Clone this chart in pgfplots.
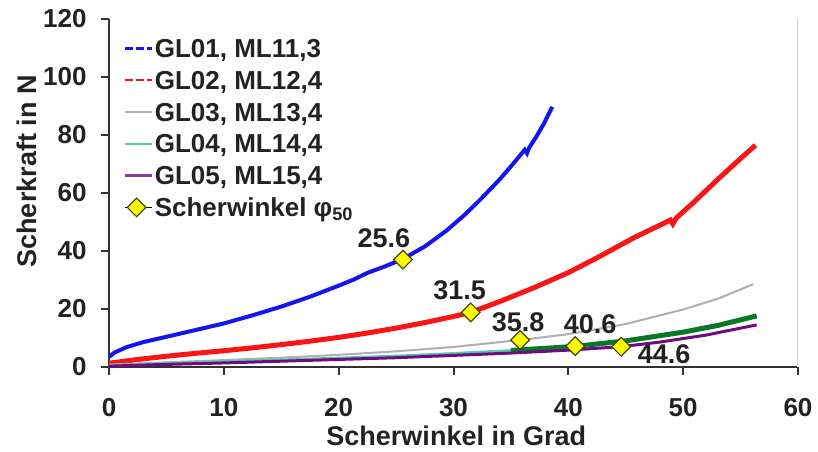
\documentclass[border=0pt]{standalone}
\usepackage{fontspec}
\setmainfont{Liberation Sans}
\usepackage{pgfplots}
\usepackage{pgfplotstable}
\pgfplotsset{compat=1.18}
\definecolor{cblue}{RGB}{20,20,240}
\definecolor{cred}{RGB}{250,20,20}
\definecolor{cgray}{RGB}{175,175,175}
\definecolor{cteal}{RGB}{90,200,175}
\definecolor{cgreen}{RGB}{10,120,40}
\definecolor{cpurple}{RGB}{110,10,130}
\definecolor{txt}{RGB}{34,34,34}
\definecolor{axcol}{RGB}{50,50,50}
\definecolor{myyellow}{RGB}{250,250,0}
\definecolor{mkborder}{RGB}{70,70,0}

\pgfplotstableread{
x y
0 3.5
0.5 5
1.5 6.8
3 8.6
5 10.4
7.5 12.7
10 15.0
12.5 17.8
15 20.8
17.5 24.2
20 28.0
21.3 30.1
22.5 32.4
24 34.6
25.6 37.2
27.5 41.5
29.4 47.0
31 52.5
32.3 57.5
33.2 61.2
34 64.5
35.2 70.0
36.2 74.8
36.4 73.6
36.6 75.6
37.2 79.2
37.9 84
38.6 89.6
}\GLa

\pgfplotstableread{
x y
0 1.3
2.5 2.6
5 3.7
7.5 4.7
10 5.6
12.5 6.6
15 7.7
17.5 8.9
20 10.2
22.5 11.7
25 13.4
27.5 15.3
30 17.4
31.5 18.8
34 22.5
37 27.3
40 32.5
42.5 37.6
45.7 44.5
48.9 50.6
49.1 49.3
49.4 51.3
51 57
52.9 64.2
54.5 70
56.3 76.4
}\GLb

\pgfplotstableread{
x y
0 0.8
5 1.6
10 2.4
15 3.2
20 4.2
25 5.4
30 6.9
35.8 9.3
40 11.3
45 14.8
50 19.8
53 23.5
56.1 28.5
}\GLc

\pgfplotstableread{
x y
0 0.7
5 1.3
10 1.9
15 2.5
20 3.1
25 3.8
30 4.7
35 5.7
40.6 7.1
45 9.0
50 12.0
53 14.3
56.4 17.6
}\GLd

\pgfplotstableread{
x y
0 0.3
5 0.9
10 1.4
15 2.0
20 2.6
25 3.2
30 4.0
35 4.8
40 5.8
44.6 7.0
48 8.6
52 11.0
56.4 14.5
}\GLe

\pgfplotstableread{
x y
25.6 37.0
31.5 18.8
35.8 9.3
40.6 7.2
44.6 7.0
}\Marks

\pgfplotsset{
  lbl/.style n args={3}{forget plot, draw=none, mark=none,
    nodes near coords={#1},
    every node near coord/.append style={anchor=center, xshift=#2, yshift=#3,
      font=\bfseries\fontsize{13.5}{15}\selectfont, text=txt, inner sep=0pt}},
}

\begin{document}
\begin{tikzpicture}
\path[use as bounding box] (-54.5pt,-42pt) rectangle (354.5pt,183.5pt);
\begin{axis}[
  scale only axis, width=344.5pt, height=174.25pt,
  xmin=0, xmax=60, ymin=0, ymax=120,
  xtick={0,10,...,60}, ytick={0,20,...,120},
  axis x line*=bottom, axis y line*=left,
  axis line style={line width=1pt, color=axcol},
  tick align=outside, major tick length=4pt,
  tick style={line width=1pt, color=axcol},
  /pgf/number format/assume math mode=true,
  ticklabel style={font=\bfseries\fontsize{13}{15}\selectfont, text=txt},
  xticklabel style={anchor=center, inner sep=0pt, yshift=-16.5pt},
  yticklabel style={anchor=east, inner sep=0pt, xshift=-7pt},
  xlabel={Scherwinkel in Grad},
  ylabel={Scherkraft in N},
  label style={font=\bfseries\fontsize{13.5}{15}\selectfont, text=txt, inner sep=0pt},
  xlabel style={at={(axis description cs:0.504,-0.198)}, anchor=center},
  ylabel style={at={(axis description cs:-0.119,0.561)}, anchor=center, rotate=0},
  legend cell align=left,
  legend style={draw=none, fill=none, at={(rel axis cs:0,1)}, anchor=north west,
    xshift=7pt, yshift=-8.5pt, inner sep=0pt,
    font=\bfseries\fontsize{13}{15}\selectfont, text=txt,
    nodes={inner sep=0pt, text height=10.8pt, text depth=1.7pt},
    row sep=3.4pt, column sep=1pt},
]
\draw[gray!35, line width=0.6pt] (rel axis cs:1,0) -- (rel axis cs:1,1);
\addplot[cblue, line width=2pt,
  legend image code/.code={\draw[cblue, line width=1.2pt, dash pattern=on 4pt off 1.5pt] (0pt,0pt) -- (13.5pt,0pt);}]
  table[x=x,y=y] {\GLa};
\addlegendentry{GL01, ML11,3}
\addplot[cred, line width=2.5pt,
  legend image code/.code={\draw[cred, line width=1.2pt, dash pattern=on 4pt off 1.5pt] (0pt,0pt) -- (13.5pt,0pt);}]
  table[x=x,y=y] {\GLb};
\addlegendentry{GL02, ML12,4}
\addplot[cgray, line width=1pt,
  legend image code/.code={\draw[cgray, line width=1.2pt] (0pt,0pt) -- (13.5pt,0pt);}]
  table[x=x,y=y] {\GLc};
\addlegendentry{GL03, ML13,4}
\addplot[cteal, line width=1.3pt,
  legend image code/.code={\draw[cteal, line width=1.2pt] (0pt,0pt) -- (13.5pt,0pt);}]
  table[x=x,y=y] {\GLd};
\addlegendentry{GL04, ML14,4}
\addplot[cgreen, line width=2.5pt, forget plot]
  table[x=x,y=y, restrict x to domain=35:60] {\GLd};
\addplot[cpurple, line width=1.5pt,
  legend image code/.code={\draw[cpurple!80, line width=1.2pt] (0pt,0pt) -- (13.5pt,0pt);}]
  table[x=x,y=y] {\GLe};
\addlegendentry{GL05, ML15,4}
\addplot[only marks, mark=square*, mark size=3.3pt,
  mark options={rotate=45, fill=myyellow, draw=mkborder, line width=0.6pt},
  legend image code/.code={\path (0pt,0pt) -- (13.5pt,0pt);
    \draw[mark=square*, mark size=3.3pt, mark options={rotate=45, fill=myyellow, draw=mkborder, line width=0.6pt}] plot coordinates {(6pt,0pt)};}]
  table[x=x,y=y] {\Marks};
\addlegendentry{Scherwinkel φ\textsubscript{50}}
\addplot[lbl={25.6}{-9.5pt}{10.5pt}] coordinates {(25.6,37.0)};
\addplot[lbl={31.5}{-5.5pt}{11pt}] coordinates {(31.5,18.8)};
\addplot[lbl={35.8}{-1pt}{9pt}] coordinates {(35.8,9.3)};
\addplot[lbl={40.6}{7.5pt}{11pt}] coordinates {(40.6,7.2)};
\addplot[lbl={44.6}{21.5pt}{-4pt}] coordinates {(44.6,7.0)};
\end{axis}
\end{tikzpicture}
\end{document}
